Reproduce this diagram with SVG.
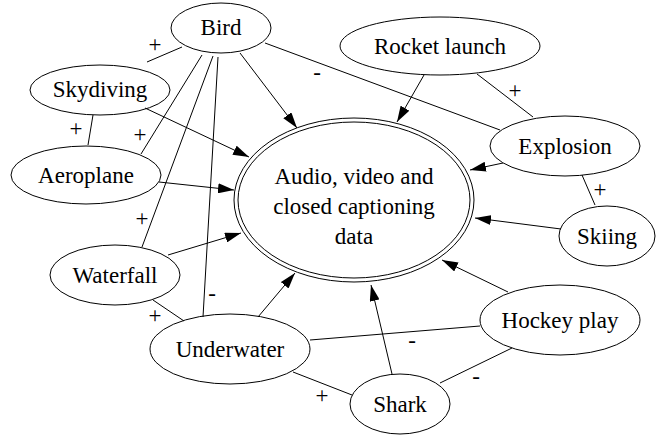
<svg xmlns="http://www.w3.org/2000/svg" width="661" height="437" viewBox="0 0 661 437">
  <defs>
    <marker id="head" markerUnits="userSpaceOnUse" markerWidth="16" markerHeight="10" refX="16" refY="5" orient="auto" viewBox="0 0 16 10">
      <path d="M0,0 L16,5 L0,10 z" fill="#000"/>
    </marker>
  </defs>
  <rect width="661" height="437" fill="#fff"/>

  <!-- shared look: thin black outlines, serif labels -->
  <g stroke="#000" stroke-width="1" font-family="Liberation Serif" font-size="23" text-anchor="middle">
  <g id="edges" fill="none">
    <!-- arrows into the central data node -->
    <g marker-end="url(#head)">
      <line x1="240" y1="53" x2="297" y2="128"/>
      <line x1="145" y1="108" x2="249" y2="157"/>
      <line x1="159" y1="182" x2="234" y2="190"/>
      <line x1="168" y1="255" x2="241" y2="233"/>
      <line x1="258" y1="317" x2="295" y2="273"/>
      <line x1="392" y1="374" x2="371" y2="285"/>
      <line x1="508" y1="292" x2="442" y2="260"/>
      <line x1="561" y1="229" x2="475" y2="218"/>
      <line x1="503" y1="163" x2="470" y2="170"/>
      <line x1="424" y1="75" x2="397" y2="122"/>
    </g>

    <!-- undirected relations -->
    <line x1="182" y1="47" x2="147" y2="62"/>
    <line x1="202" y1="55" x2="141" y2="154"/>
    <line x1="213" y1="56" x2="142" y2="247"/>
    <line x1="218" y1="57" x2="203" y2="317"/>
    <line x1="265" y1="43" x2="500" y2="130"/>
    <line x1="93" y1="115" x2="88" y2="145"/>
    <line x1="477" y1="74" x2="533" y2="117"/>
    <line x1="582" y1="175" x2="595" y2="205"/>
    <line x1="480" y1="326" x2="310" y2="340"/>
    <line x1="512" y1="348" x2="440" y2="383"/>
    <line x1="153" y1="300" x2="184" y2="321"/>
    <line x1="293" y1="372" x2="352" y2="395"/>

    <!-- relation signs -->
    <g stroke="none" fill="#000">
      <text x="155" y="52">+</text>
      <text x="140" y="142">+</text>
      <text x="76" y="136">+</text>
      <text x="142" y="226">+</text>
      <text x="212" y="301">-</text>
      <text x="317" y="80">-</text>
      <text x="515" y="98">+</text>
      <text x="600" y="197">+</text>
      <text x="412" y="348">-</text>
      <text x="476" y="384">-</text>
      <text x="155" y="323">+</text>
      <text x="322" y="403">+</text>
    </g>
  </g>

  <g fill="none">
    <g id="node-center">
      <ellipse cx="354" cy="200" rx="120" ry="82"/>
      <ellipse cx="354" cy="200" rx="116" ry="78"/>
      <g stroke="none" fill="#000">
        <text x="354" y="184">Audio, video and</text>
        <text x="354" y="214">closed captioning</text>
        <text x="354" y="244">data</text>
      </g>
    </g>
    <g id="node-bird">
      <ellipse cx="221" cy="28" rx="50" ry="25"/>
      <text x="221" y="35" stroke="none" fill="#000">Bird</text>
    </g>
    <g id="node-skydiving">
      <ellipse cx="100" cy="90" rx="70" ry="25"/>
      <text x="100" y="97" stroke="none" fill="#000">Skydiving</text>
    </g>
    <g id="node-aeroplane">
      <ellipse cx="86" cy="175" rx="75" ry="29"/>
      <text x="86" y="183" stroke="none" fill="#000">Aeroplane</text>
    </g>
    <g id="node-waterfall">
      <ellipse cx="115" cy="275" rx="65" ry="30"/>
      <text x="115" y="283" stroke="none" fill="#000">Waterfall</text>
    </g>
    <g id="node-underwater">
      <ellipse cx="230" cy="349" rx="80" ry="35"/>
      <text x="230" y="357" stroke="none" fill="#000">Underwater</text>
    </g>
    <g id="node-shark">
      <ellipse cx="400" cy="404" rx="50" ry="30"/>
      <text x="400" y="412" stroke="none" fill="#000">Shark</text>
    </g>
    <g id="node-hockey">
      <ellipse cx="560" cy="320" rx="80" ry="35"/>
      <text x="560" y="328" stroke="none" fill="#000">Hockey play</text>
    </g>
    <g id="node-skiing">
      <ellipse cx="607" cy="236" rx="48" ry="30"/>
      <text x="607" y="244" stroke="none" fill="#000">Skiing</text>
    </g>
    <g id="node-explosion">
      <ellipse cx="565" cy="146" rx="75" ry="30"/>
      <text x="565" y="154" stroke="none" fill="#000">Explosion</text>
    </g>
    <g id="node-rocket">
      <ellipse cx="440" cy="46" rx="100" ry="29"/>
      <text x="440" y="54" stroke="none" fill="#000">Rocket launch</text>
    </g>
  </g>
  </g>
</svg>
